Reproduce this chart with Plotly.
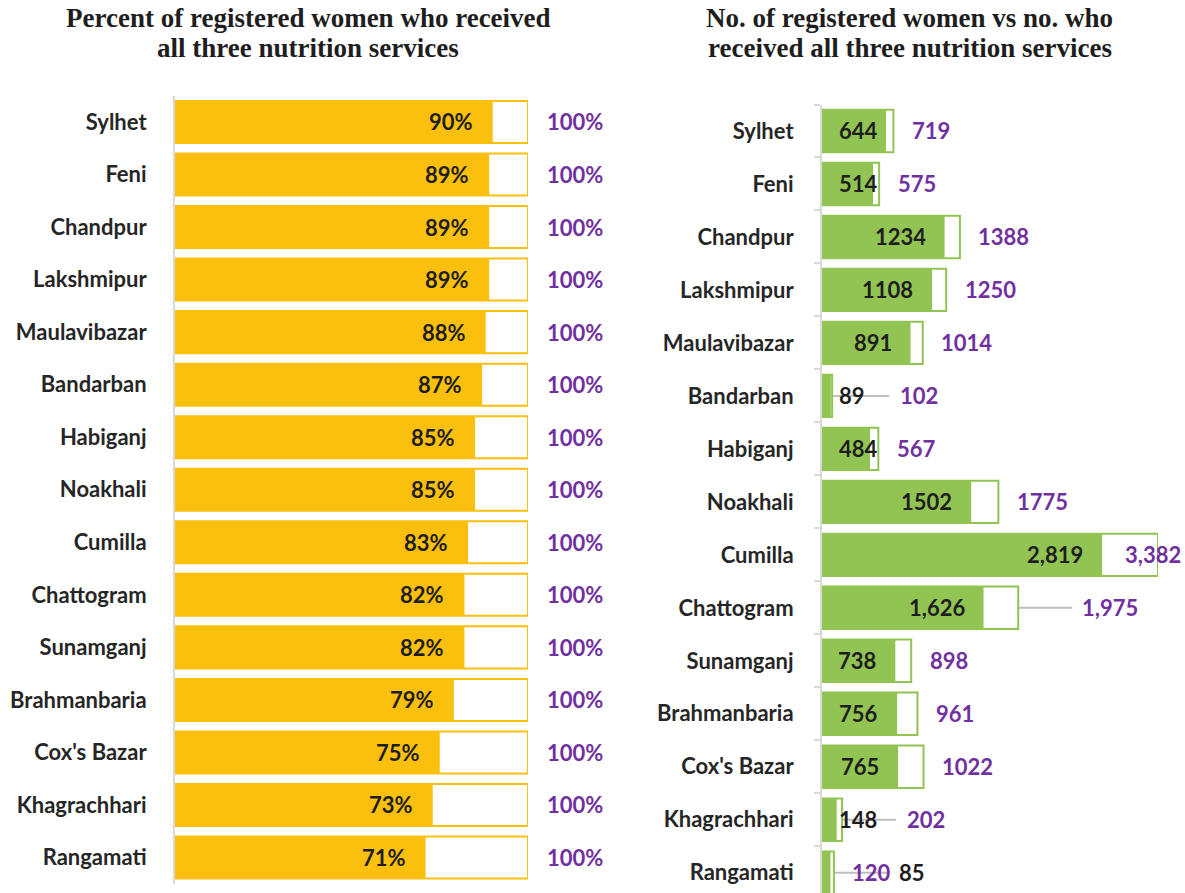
import plotly.graph_objects as go

# ---------------- data ----------------
districts = ["Sylhet", "Feni", "Chandpur", "Lakshmipur", "Maulavibazar", "Bandarban",
             "Habiganj", "Noakhali", "Cumilla", "Chattogram", "Sunamganj", "Brahmanbaria",
             "Cox's Bazar", "Khagrachhari", "Rangamati"]
pct_received = [90, 89, 89, 89, 88, 87, 85, 85, 83, 82, 82, 79, 75, 73, 71]
pct_total = [100] * 15

districts_right = ["Sylhet", "Feni", "Chandpur", "Lakshmipur", "Maulavibazar", "Bandarban",
                   "Habiganj", "Noakhali", "Cumilla", "Chattogram", "Sunamganj", "Brahmanbaria",
                   "Cox's Bazar", "Khagrachhari", "Rangamati"]
num_received = [644, 514, 1234, 1108, 891, 89, 484, 1502, 2819, 1626, 738, 756, 765, 148, 85]
num_registered = [719, 575, 1388, 1250, 1014, 102, 567, 1775, 3382, 1975, 898, 961, 1022, 202, 120]
received_text = ["644", "514", "1234", "1108", "891", "89", "484", "1502", "2,819", "1,626",
                 "738", "756", "765", "148", "85"]
registered_text = ["719", "575", "1388", "1250", "1014", "102", "567", "1775", "3,382", "1,975",
                   "898", "961", "1022", "202", "120"]

title_left = ["Percent of registered women who received", "all three nutrition services"]
title_right = ["No. of registered women vs no. who", "received all three nutrition services"]

# ---------------- styling ----------------
GOLD = "#FBBF0E"
GREEN = "#92C453"
PURPLE = "#7030A0"
DARK = "#1E1E1E"
AXIS = "#D9D9D9"
LEADER = "#BFBFBF"
FONT = "Lato"
FS = 22
W, H = 1185, 893

# manual label adjustments (pixel offsets) for crowded labels
reg_label_shift = {"Cumilla": -35, "Chattogram": 62, "Bandarban": 66, "Khagrachhari": 63}
rec_label_shift = {"Rangamati": 67}
leaders = [  # (district, series, px start, px end)
    ("Chattogram", "reg", 0, 54),
    ("Bandarban", "reg", 1, 57),
    ("Khagrachhari", "reg", 1, 54),
    ("Rangamati", "rec", 0, 58),
]

fig = go.Figure()

# ---- left chart ----
fig.add_trace(go.Bar(y=districts, x=pct_total, orientation="h", width=0.8,
                     marker=dict(color="white", line=dict(color=GOLD, width=2)),
                     xaxis="x", yaxis="y", hoverinfo="skip", showlegend=False))
fig.add_trace(go.Bar(y=districts, x=pct_received, orientation="h", width=0.8,
                     marker=dict(color=GOLD, line=dict(color=GOLD, width=0)),
                     xaxis="x", yaxis="y", hoverinfo="skip", showlegend=False))

# ---- right chart ----
fig.add_trace(go.Bar(y=districts_right, x=num_registered, orientation="h", width=0.8,
                     marker=dict(color="white", line=dict(color=GREEN, width=2)),
                     xaxis="x2", yaxis="y2", hoverinfo="skip", showlegend=False))
fig.add_trace(go.Bar(y=districts_right, x=num_received, orientation="h", width=0.8,
                     marker=dict(color=GREEN, line=dict(color=GREEN, width=0)),
                     xaxis="x2", yaxis="y2", hoverinfo="skip", showlegend=False))

annotations = []
lab_font = dict(family=FONT, size=FS, color=DARK, weight="bold")
pur_font = dict(family=FONT, size=FS, color=PURPLE, weight="bold")

for i, (v, t) in enumerate(zip(pct_received, pct_total)):
    annotations.append(dict(x=v, y=i, xref="x", yref="y", text=f"{v}%", showarrow=False,
                            xanchor="right", xshift=-18, font=lab_font))
    annotations.append(dict(x=t, y=i, xref="x", yref="y", text=f"{t}%", showarrow=False,
                            xanchor="left", xshift=17, font=pur_font))

x2_max = max(num_registered)
x2_px = (1158 - 822)
for i, d in enumerate(districts_right):
    rv, gv = num_received[i], num_registered[i]
    # received label
    if d in rec_label_shift:
        annotations.append(dict(x=rv, y=i, xref="x2", yref="y2", text=received_text[i],
                                showarrow=False, xanchor="left", xshift=rec_label_shift[d],
                                font=lab_font))
    elif rv / x2_max * x2_px < 70:
        annotations.append(dict(x=0, y=i, xref="x2", yref="y2", text=received_text[i],
                                showarrow=False, xanchor="left", xshift=15, font=lab_font))
    else:
        annotations.append(dict(x=rv, y=i, xref="x2", yref="y2", text=received_text[i],
                                showarrow=False, xanchor="right", xshift=-17, font=lab_font))
    # registered label
    annotations.append(dict(x=gv, y=i, xref="x2", yref="y2", text=registered_text[i],
                            showarrow=False, xanchor="left",
                            xshift=reg_label_shift.get(d, 16.5), font=pur_font))

shapes = []
for d, s, p0, p1 in leaders:
    i = districts_right.index(d)
    anchor = num_registered[i] if s == "reg" else num_received[i]
    shapes.append(dict(type="line", xref="x2", yref="y2", xsizemode="pixel", xanchor=anchor,
                       x0=p0, x1=p1, y0=i, y1=i, line=dict(color=LEADER, width=2), layer="below"))

title_font = dict(family="Liberation Serif", size=27, color="#1E1E1E", weight="bold")
for k, line in enumerate(title_left):
    annotations.append(dict(x=308 / W, y=1 - (18 + 30 * k) / H, xref="paper", yref="paper",
                            text=line, showarrow=False, xanchor="center", yanchor="middle",
                            font=title_font))
for k, line in enumerate(title_right):
    annotations.append(dict(x=910 / W, y=1 - (18 + 30 * k) / H, xref="paper", yref="paper",
                            text=line, showarrow=False, xanchor="center", yanchor="middle",
                            font=title_font))

n = len(districts)
fig.update_layout(
    width=W, height=H, margin=dict(l=0, r=0, t=0, b=0),
    paper_bgcolor="white", plot_bgcolor="white",
    barmode="overlay", showlegend=False,
    xaxis=dict(domain=[175 / W, 528 / W], range=[0, 100], visible=False, fixedrange=True),
    yaxis=dict(domain=[(H - 883.8) / H, (H - 95.7) / H], type="category",
               categoryorder="array", categoryarray=districts,
               range=[n - 0.5, -0.5], showline=True, linecolor=AXIS, linewidth=2,
               showgrid=False, zeroline=False, ticks="", ticklabelstandoff=22,
               tickfont=dict(family=FONT, size=FS, color="#262626", weight="bold")),
    xaxis2=dict(domain=[822 / W, 1158 / W], range=[0, x2_max], visible=False, fixedrange=True,
                anchor="y2"),
    yaxis2=dict(domain=[0, (H - 104.5) / H], type="category", anchor="x2",
                categoryorder="array", categoryarray=districts_right,
                range=[(H - 131) / 52.98, -0.5], showline=True, linecolor=AXIS, linewidth=2,
                showgrid=False, zeroline=False, ticks="outside", tickson="boundaries",
                ticklen=6, tickcolor=AXIS, tickwidth=2, ticklabelstandoff=22,
                tickfont=dict(family=FONT, size=FS, color="#262626", weight="bold")),
    annotations=annotations, shapes=shapes,
)

fig.write_html("out.html")
